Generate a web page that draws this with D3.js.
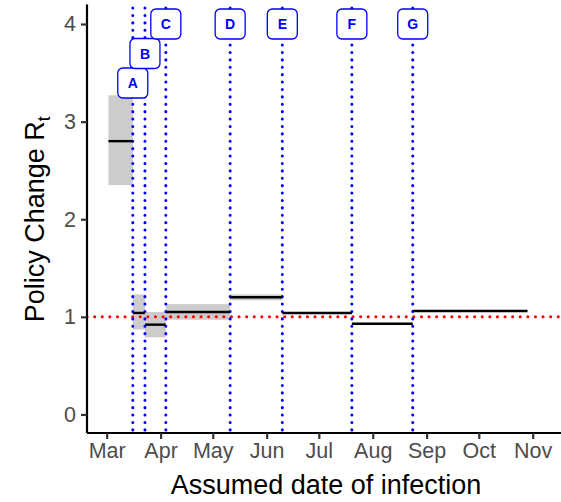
<!DOCTYPE html>
<html><head><meta charset="utf-8">
<script src="https://cdn.jsdelivr.net/npm/d3@7"></script>
<style>body{margin:0;background:#fff}text{font-family:"Liberation Sans",Arial,sans-serif}</style>
</head><body>
<svg id="chart" width="561" height="502"></svg>
<script>
const parse = d3.timeParse("%Y-%m-%d");
// policy change dates
const policyLabels = ["A", "B", "C", "D", "E", "F", "G"];
const policyDates = ["2020-03-16", "2020-03-23", "2020-04-04", "2020-05-11", "2020-06-10", "2020-07-20", "2020-08-24"];
const labelRow = [2, 1, 0, 0, 0, 0, 0];
// Rt segments
const segStart = ["2020-03-02", "2020-03-16", "2020-03-23", "2020-04-04", "2020-05-11", "2020-06-10", "2020-07-20", "2020-08-24"];
const segEnd = ["2020-03-16", "2020-03-23", "2020-04-04", "2020-05-11", "2020-06-10", "2020-07-20", "2020-08-24", "2020-10-29"];
const segMean = [2.8, 1.04, 0.92, 1.05, 1.2, 1.04, 0.93, 1.06];
const segLow = [2.35, 0.87, 0.79, 0.97, 1.17, 1.03, 0.92, 1.05];
const segHigh = [3.27, 1.23, 1.05, 1.13, 1.23, 1.05, 0.94, 1.07];
const yTicks = [0, 1, 2, 3, 4];

const svg = d3.select("#chart");
const x = d3.scaleTime().domain([parse("2020-03-01"), parse("2020-11-01")]).range([106.7, 532.7]);
const y = d3.scaleLinear().domain([-0.19, 4.2]).range([433, 4.5]);
const left = 87, bottom = 433, right = 561;

// CI boxes
svg.selectAll("rect.ci").data(segStart).join("rect")
	.attr("x", (d) => x(parse(d)))
	.attr("width", (d, i) => x(parse(segEnd[i])) - x(parse(d)))
	.attr("y", (d, i) => y(segHigh[i]))
	.attr("height", (d, i) => y(segLow[i]) - y(segHigh[i]))
	.attr("fill", "#cccccc");

// reference line at 1
svg.append("line").attr("x1", left).attr("x2", right).attr("y1", y(1)).attr("y2", y(1))
	.attr("stroke", "red").attr("stroke-width", 3).attr("stroke-dasharray", "0.1,7.5").attr("stroke-linecap", "round");

// policy lines
svg.selectAll("line.pol").data(policyDates).join("line")
	.attr("x1", (d) => x(parse(d))).attr("x2", (d) => x(parse(d)))
	.attr("y1", 8).attr("y2", bottom)
	.attr("stroke", "blue").attr("stroke-width", 3).attr("stroke-dasharray", "0.1,7.3").attr("stroke-linecap", "round");

// means
svg.selectAll("line.mean").data(segStart).join("line")
	.attr("x1", (d) => x(parse(d))).attr("x2", (d, i) => x(parse(segEnd[i])))
	.attr("y1", (d, i) => y(segMean[i])).attr("y2", (d, i) => y(segMean[i]))
	.attr("stroke", "black").attr("stroke-width", 2.4);

// labels
const lab = svg.selectAll("g.lab").data(policyLabels).join("g")
	.attr("transform", (d, i) => `translate(${x(parse(policyDates[i]))},${24 + labelRow[i] * 29.5})`);
lab.append("rect").attr("x", -15).attr("y", -15).attr("width", 30).attr("height", 30)
	.attr("rx", 5).attr("fill", "white").attr("stroke", "blue").attr("stroke-width", 1.3);
lab.append("text").text((d) => d).attr("text-anchor", "middle").attr("dy", "0.36em")
	.attr("font-size", 14).attr("font-weight", "bold").attr("fill", "blue");

// axes
const xAxis = svg.append("g").attr("transform", `translate(0,${bottom})`)
	.call(d3.axisBottom(x).ticks(d3.timeMonth.every(1)).tickFormat(d3.timeFormat("%b")).tickSize(6).tickPadding(4));
xAxis.select(".domain").attr("d", `M${left},0H${right}`);
const yAxis = svg.append("g").attr("transform", `translate(${left},0)`)
	.call(d3.axisLeft(y).tickValues(yTicks).tickFormat(d3.format("d")).tickSize(6).tickPadding(5));
yAxis.select(".domain").attr("d", `M0,4.5V${bottom}`);
svg.selectAll(".domain").attr("stroke", "black").attr("stroke-width", 2.2);
svg.selectAll(".tick line").attr("stroke", "#333").attr("stroke-width", 2.2);
svg.selectAll(".tick text").attr("fill", "#4d4d4d").attr("font-size", 21.5)
	.attr("font-family", "Liberation Sans, Arial, sans-serif");

svg.append("text").attr("x", 326).attr("y", 494).attr("text-anchor", "middle")
	.attr("font-size", 27).text("Assumed date of infection");
const yt = svg.append("text").attr("transform", `translate(44,${y(2)}) rotate(-90)`).attr("text-anchor", "middle")
	.attr("font-size", 27);
yt.append("tspan").text("Policy Change R");
yt.append("tspan").text("t").attr("font-size", 18).attr("dy", 6);
</script>
</body></html>
